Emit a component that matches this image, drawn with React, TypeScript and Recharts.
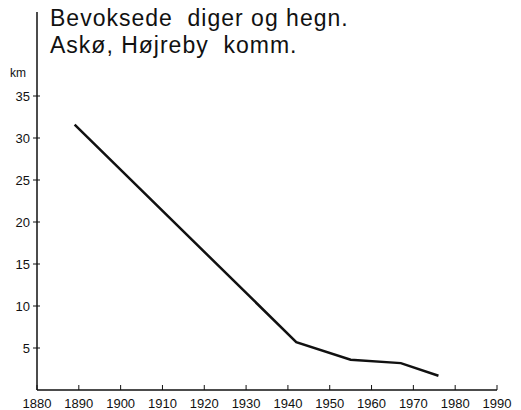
import { Line, LineChart, XAxis, YAxis } from "recharts";

// Bevoksede diger og hegn, Askø (km)
const years = [1889, 1942, 1955, 1967, 1976];
const km = [31.6, 5.7, 3.6, 3.2, 1.7];
const yearTicks = [1880, 1890, 1900, 1910, 1920, 1930, 1940, 1950, 1960, 1970, 1980, 1990];
const kmTicks = [5, 10, 15, 20, 25, 30, 35];
const titleLines = ["Bevoksede  diger og hegn.", "Askø, Højreby  komm."];

const data = years.map((y, i) => ({ year: y, km: km[i] }));

const FONT = "'Liberation Sans', Arial, Helvetica, sans-serif";

// tick props arrive offset from the axis line by tickSize + tickMargin (8px)
function XTick({ x, y, payload }: any) {
  return (
    <g>
      <line x1={x} x2={x} y1={y - 8} y2={y - 13} stroke="#111" strokeWidth={1} />
      <text x={x} y={y + 10} textAnchor="middle" fontSize={13} fontFamily={FONT} fill="#111">
        {payload.value}
      </text>
    </g>
  );
}

function YTick({ x, y, payload }: any) {
  return (
    <g>
      <line x1={x + 4} x2={x + 11} y1={y} y2={y} stroke="#111" strokeWidth={1} />
      <text x={x + 1} y={y + 5} textAnchor="end" fontSize={13} fontFamily={FONT} fill="#111">
        {payload.value}
      </text>
    </g>
  );
}

export default function App() {
  return (
    <div style={{ position: "absolute", left: 0, top: 0, width: 521, height: 410, background: "#fff" }}>
      <LineChart width={521} height={410} data={data} margin={{ top: 12, right: 24, left: 0, bottom: 0 }}>
        <XAxis
          dataKey="year"
          type="number"
          domain={[1880, 1990]}
          ticks={yearTicks}
          height={20}
          tickLine={false}
          axisLine={{ stroke: "#111", strokeWidth: 1.5 }}
          tick={<XTick />}
          interval={0}
        />
        <YAxis
          type="number"
          domain={[0, 45]}
          ticks={kmTicks}
          width={37}
          tickLine={false}
          axisLine={{ stroke: "#111", strokeWidth: 1.5 }}
          tick={<YTick />}
          interval={0}
        />
        <Line
          dataKey="km"
          type="linear"
          stroke="#111"
          strokeWidth={2.5}
          dot={false}
          isAnimationActive={false}
        />
      </LineChart>
      <div
        style={{
          position: "absolute",
          left: 50,
          top: 5,
          fontFamily: FONT,
          fontSize: 23,
          letterSpacing: 1,
          lineHeight: "27px",
          color: "#111",
          whiteSpace: "pre",
        }}
      >
        {titleLines.map((t) => (
          <div key={t}>{t}</div>
        ))}
      </div>
      <div style={{ position: "absolute", left: 10, top: 66, fontFamily: FONT, fontSize: 12, color: "#111" }}>km</div>
    </div>
  );
}
